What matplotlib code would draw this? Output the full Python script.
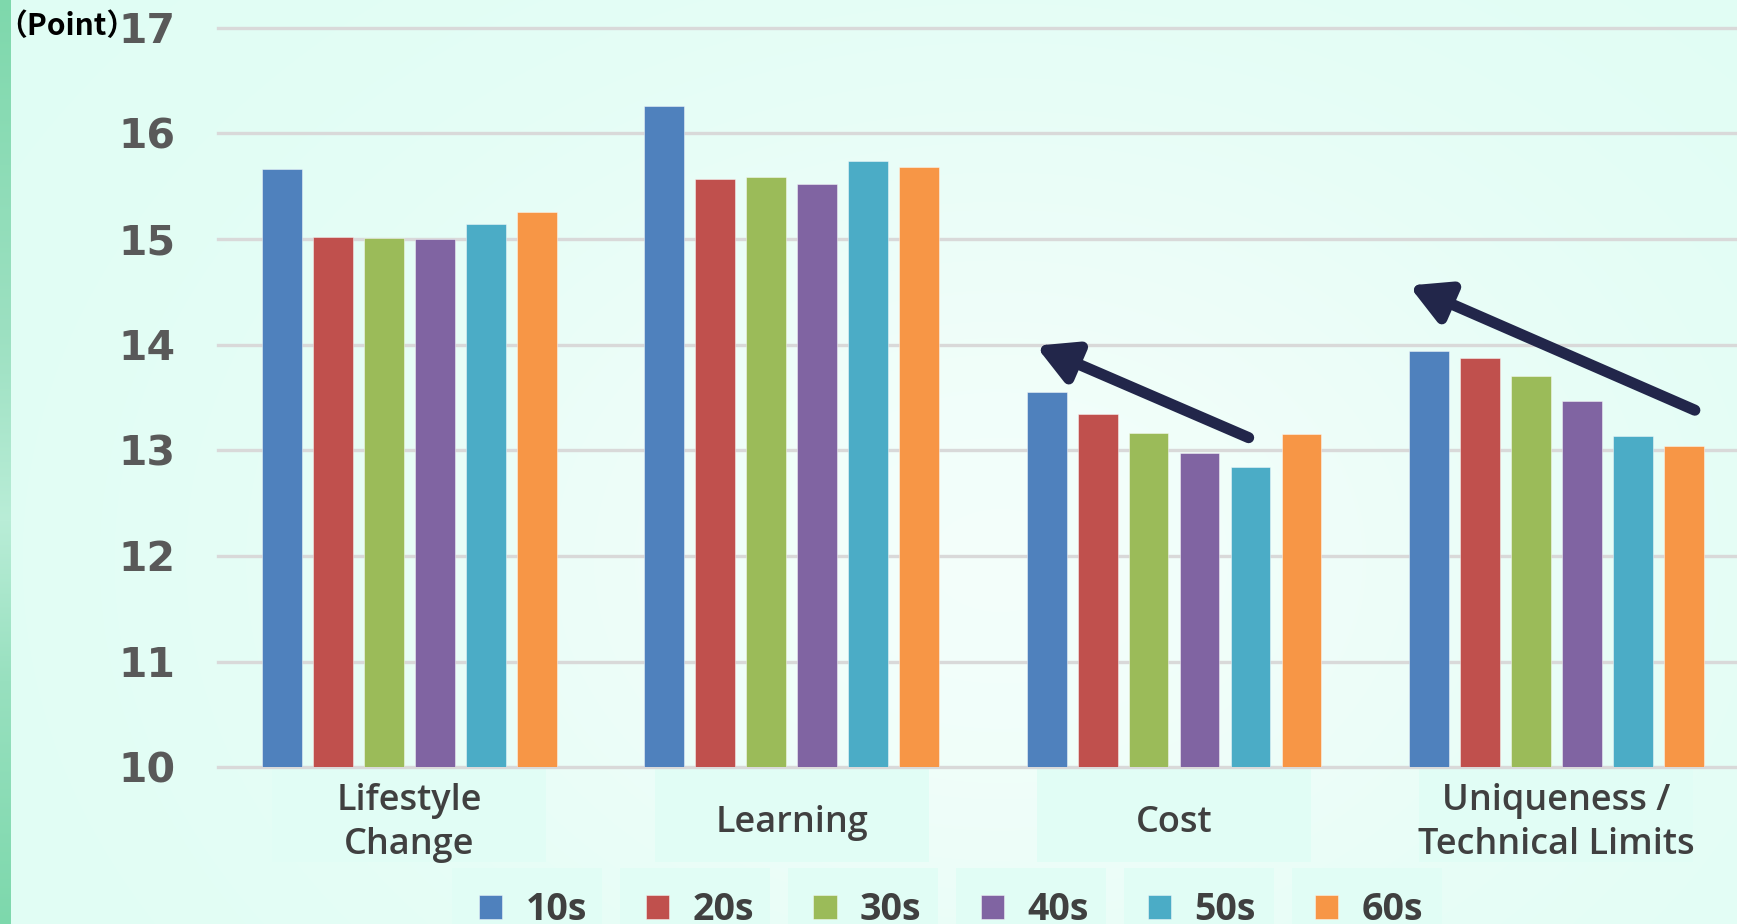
import numpy as np
import matplotlib
matplotlib.use("Agg")
import matplotlib.pyplot as plt
from matplotlib.patches import Rectangle, FancyArrowPatch
from matplotlib.colors import to_rgb

# ---- data -------------------------------------------------------------
categories = ["Lifestyle\nChange", "Learning", "Cost", "Uniqueness /\nTechnical Limits"]
age_groups = ["10s", "20s", "30s", "40s", "50s", "60s"]
scores_10s = [15.66, 16.26, 13.55, 13.94]
scores_20s = [15.02, 15.57, 13.34, 13.87]
scores_30s = [15.01, 15.59, 13.16, 13.70]
scores_40s = [15.00, 15.52, 12.97, 13.47]
scores_50s = [15.14, 15.74, 12.84, 13.14]
scores_60s = [15.26, 15.68, 13.15, 13.04]
series = [scores_10s, scores_20s, scores_30s, scores_40s, scores_50s, scores_60s]
y_ticks = [10, 11, 12, 13, 14, 15, 16, 17]
unit_label = "（Point）"

colors = ["#4F81BD", "#C0504D", "#9BBB59", "#8064A2", "#4BACC6", "#F79646"]

# trend arrows (tail -> head) in data coordinates
trend_arrows = [((2.195, 13.12), (1.638, 13.99)),
                ((3.362, 13.38), (2.614, 14.56))]

W, H = 1737, 924
fig = plt.figure(figsize=(W / 100, H / 100), dpi=100)

# ---- background: mint with a soft pale glow and a green side stripe ----
bg = fig.add_axes([0, 0, 1, 1], zorder=-5)
yy, xx = np.mgrid[0:H, 0:W]
base = np.array(to_rgb("#E0FDF4"))
d2 = ((xx - 1000) / 650.0) ** 2 + ((yy - 560) / 480.0) ** 2
glow = 0.62 * np.exp(-d2)
img = base[None, None, :] * (1 - glow[..., None]) + glow[..., None] * 1.0
# left stripe with vertical tint variation
stripe_stops_y = [0, 330, 520, 680, 924]
stripe_stops_c = [to_rgb("#7ED8AC"), to_rgb("#9CE0C1"), to_rgb("#B9EDD7"),
                  to_rgb("#98E0BF"), to_rgb("#7DD8AC")]
ys = np.arange(H)
stripe = np.stack([np.interp(ys, stripe_stops_y, [c[k] for c in stripe_stops_c])
                   for k in range(3)], axis=-1)
img[:, :11, :] = stripe[:, None, :]
bg.imshow(img, extent=[0, W, H, 0], aspect="auto", interpolation="bilinear")
bg.set_xlim(0, W)
bg.set_ylim(H, 0)
bg.axis("off")

# ---- main axes ----------------------------------------------------------
ax = fig.add_axes([218.2 / W, (H - 767.3) / H, (1747.6 - 218.2) / W, (767.3 - 27.7) / H])
ax.set_facecolor("none")
for s in ax.spines.values():
    s.set_visible(False)

x = np.arange(len(categories))
step = 0.1333
bar_w = 0.104
for i, (vals, c, name) in enumerate(zip(series, colors, age_groups)):
    ax.bar(x + (i - 2.5) * step, vals, width=bar_w, color=c, label=name,
           edgecolor=(1, 1, 1, 0.45), linewidth=0.7, zorder=3)

for t in y_ticks:
    ax.axhline(t, color="#D9D9D9", linewidth=2.4, zorder=1, clip_on=False)

ax.set_ylim(y_ticks[0], y_ticks[-1])
ax.set_xlim(-0.5, len(categories) - 0.5)
ax.set_yticks(y_ticks)
ax.set_yticklabels([str(t) for t in y_ticks], fontfamily="DejaVu Sans",
                   fontweight="bold", fontsize=29.5, color="#595959")
ax.tick_params(axis="y", length=0, pad=31)
ax.set_xticks(x)
ax.set_xticklabels(categories, fontfamily="Open Sans", fontweight="semibold",
                   fontsize=26, color="#404040", linespacing=1.3)
ax.tick_params(axis="x", length=0, pad=40)
for lbl in ax.get_xticklabels():
    lbl.set_va("center")

# label panels behind the category names
for i in range(len(categories)):
    cx = 218.2 + (i + 0.5) * (1747.6 - 218.2) / len(categories)
    bg.add_patch(Rectangle((cx - 137, 768), 274, 94, facecolor="#E1FDF5",
                           edgecolor="none", zorder=2))

# trend arrows
for tail, head in trend_arrows:
    ax.add_patch(FancyArrowPatch(tail, head,
                                 arrowstyle="-|>,head_length=23,head_width=12.5",
                                 mutation_scale=1, linewidth=8,
                                 color="#22264A", shrinkA=0, shrinkB=0,
                                 zorder=5, clip_on=False))

# unit label
fig.text(-3 / W, 1 - 26 / H, unit_label, fontfamily=["Noto Sans CJK JP", "DejaVu Sans"],
         fontweight="bold", fontsize=21.5, color="#000000", ha="left", va="center")

# legend
leg = ax.legend(ncol=6, loc="center left", bbox_to_anchor=(479 / W, 1 - 910 / H),
                bbox_transform=fig.transFigure, frameon=False,
                prop={"family": "Open Sans", "size": 27, "weight": "bold"},
                handlelength=0.62, handleheight=0.6, handletextpad=0.62,
                columnspacing=1.58, borderpad=0, borderaxespad=0)
for txt in leg.get_texts():
    txt.set_color("#404040")
for k in range(len(age_groups)):
    bg.add_patch(Rectangle((452 + k * 168, 868), 150, 60, facecolor="#E1FDF5",
                           edgecolor="none", zorder=2))

fig.savefig("out.png", dpi=100)
